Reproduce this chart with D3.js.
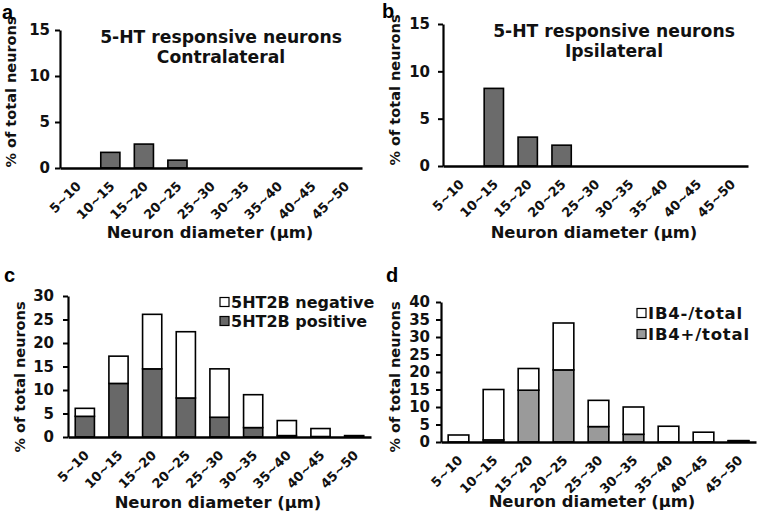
<!DOCTYPE html>
<html><head><meta charset="utf-8">
<script src="https://cdn.jsdelivr.net/npm/d3@7"></script>
<style>body{margin:0;background:#fff}</style>
</head><body>
<svg id="chart" width="761" height="516"></svg>
<script>
const categories = ["5~10","10~15","15~20","20~25","25~30","30~35","35~40","40~45","45~50"];
const contralateral = [0, 1.7, 2.6, 0.85, 0, 0, 0, 0, 0];
const ipsilateral = [0, 8.2, 3.05, 2.2, 0, 0, 0, 0, 0];
const ht2bPositive = [4.4, 11.4, 14.5, 8.3, 4.2, 2.0, 0.3, 0.1, 0.3];
const ht2bNegative = [1.7, 5.8, 11.6, 14.1, 10.3, 7.0, 3.2, 1.7, 0.0];
const ib4Positive = [0, 0.6, 14.8, 20.6, 4.4, 2.2, 0, 0, 0.3];
const ib4Negative = [2.0, 14.4, 6.2, 13.4, 7.5, 7.8, 4.5, 2.8, 0.1];
const ticksAB = [0, 5, 10, 15];
const ticksC = [0, 5, 10, 15, 20, 25, 30];
const ticksD = [0, 5, 10, 15, 20, 25, 30, 35, 40];
const yTitle = "% of total neurons";
const xTitle = "Neuron diameter (µm)";

const svg = d3.select("#chart");
const FONT = "'DejaVu Sans', Verdana, sans-serif";

function panel(o) {
  const g = svg.append("g");
  const x = d3.scaleBand().domain(categories).range([o.x0, o.x1]).paddingInner(o.pad).paddingOuter(o.pad / 2);
  const y = d3.scaleLinear().domain([0, o.max]).range([o.y0, o.yTop]);

  const keys = o.series.map((s, i) => "s" + i);
  const rows = categories.map((c, j) => {
    const r = { cat: c };
    o.series.forEach((s, i) => r["s" + i] = s.values[j]);
    return r;
  });
  const stacked = d3.stack().keys(keys)(rows);
  stacked.forEach((layer, i) => {
    g.append("g").selectAll("rect").data(layer.filter(d => d[1] - d[0] > 0)).join("rect")
      .attr("x", d => x(d.data.cat))
      .attr("width", x.bandwidth())
      .attr("y", d => y(d[1]))
      .attr("height", d => y(d[0]) - y(d[1]))
      .attr("fill", o.series[i].fill)
      .attr("stroke", "#000")
      .attr("stroke-width", 1.6);
  });

  const ya = g.append("g").attr("transform", `translate(${o.x0},0)`)
    .call(d3.axisLeft(y).tickValues(o.ticks).tickSize(5).tickSizeOuter(0).tickPadding(o.tp));
  ya.select(".domain").attr("stroke-width", 2.2);
  ya.selectAll(".tick line").attr("stroke-width", 2);
  ya.selectAll("text").attr("font-family", FONT).attr("font-weight", "bold").attr("font-size", 15).attr("fill", "#111");

  const xa = g.append("g").attr("transform", `translate(0,${o.y0})`)
    .call(d3.axisBottom(x).tickSize(0).tickSizeOuter(0));
  xa.select(".domain").attr("stroke-width", 2.5);
  xa.selectAll("text")
    .attr("font-family", FONT).attr("font-weight", "bold").attr("font-size", 13).attr("fill", "#111")
    .attr("text-anchor", "end").attr("dy", null).attr("y", null)
    .attr("transform", "translate(5,19) rotate(-45)");

  g.append("text").attr("transform", `translate(${o.yTitleX},${o.yTitleY}) rotate(-90)`)
    .attr("text-anchor", "middle").attr("font-family", FONT).attr("font-weight", "bold")
    .attr("font-size", 14.5).attr("fill", "#111").text(yTitle);
  g.append("text").attr("x", o.xTitleX).attr("y", o.xTitleY)
    .attr("text-anchor", "middle").attr("font-family", FONT).attr("font-weight", "bold")
    .attr("font-size", 16.4).attr("fill", "#111").text(xTitle);

  g.append("text").attr("x", o.lx).attr("y", o.ly)
    .attr("font-family", "'Liberation Sans', Arial, sans-serif").attr("font-weight", "bold")
    .attr("font-size", 20).attr("fill", "#000").text(o.letter);

  if (o.title) {
    o.title.forEach((t, i) => {
      g.append("text").attr("x", o.tx).attr("y", o.ty[i]).attr("text-anchor", "middle")
        .attr("font-family", FONT).attr("font-weight", "bold").attr("font-size", 17.2)
        .attr("fill", "#111").text(t);
    });
  }
  if (o.legend) {
    o.legend.forEach((l, i) => {
      const ly = o.legY[i];
      g.append("rect").attr("x", o.legX).attr("y", ly - 4.5).attr("width", 9).attr("height", 9)
        .attr("fill", l.fill).attr("stroke", "#000").attr("stroke-width", 1.2);
      g.append("text").attr("x", o.legX + 11).attr("y", ly).attr("dy", "0.36em")
        .attr("font-family", FONT).attr("font-weight", "bold").attr("font-size", o.legFs)
        .attr("letter-spacing", o.legLs).attr("fill", "#111").text(l.label);
    });
  }
}

panel({ letter: "a", lx: 2, ly: 19, x0: 60, x1: 362, yTop: 30, y0: 168, max: 15, ticks: ticksAB, pad: 0.43, tp: 5,
  series: [{ values: contralateral, fill: "#6b6b6b" }],
  yTitleX: 16, yTitleY: 92, xTitleX: 210, xTitleY: 238,
  title: ["5-HT responsive neurons", "Contralateral"], tx: 221, ty: [43, 63] });

panel({ letter: "b", lx: 382, ly: 18, x0: 443, x1: 748, yTop: 24, y0: 166, max: 15, ticks: ticksAB, pad: 0.43, tp: 8,
  series: [{ values: ipsilateral, fill: "#6b6b6b" }],
  yTitleX: 400, yTitleY: 90, xTitleX: 594, xTitleY: 238,
  title: ["5-HT responsive neurons", "Ipsilateral"], tx: 614, ty: [37, 57] });

panel({ letter: "c", lx: 4, ly: 282, x0: 68, x1: 371, yTop: 296, y0: 437, max: 30, ticks: ticksC, pad: 0.43, tp: 9,
  series: [{ values: ht2bPositive, fill: "#686868" }, { values: ht2bNegative, fill: "#ffffff" }],
  yTitleX: 25, yTitleY: 377, xTitleX: 218, xTitleY: 508,
  legend: [{ label: "5HT2B negative", fill: "#ffffff" }, { label: "5HT2B positive", fill: "#686868" }],
  legX: 220, legY: [302, 321], legFs: 16, legLs: 0 });

panel({ letter: "d", lx: 386, ly: 282, x0: 441, x1: 756, yTop: 302, y0: 442, max: 40, ticks: ticksD, pad: 0.41, tp: 6,
  series: [{ values: ib4Positive, fill: "#9a9a9a" }, { values: ib4Negative, fill: "#ffffff" }],
  yTitleX: 400, yTitleY: 377, xTitleX: 592, xTitleY: 507,
  legend: [{ label: "IB4-/total", fill: "#ffffff" }, { label: "IB4+/total", fill: "#9a9a9a" }],
  legX: 637, legY: [313, 334], legFs: 16.5, legLs: 0.8 });
</script>
</body></html>
